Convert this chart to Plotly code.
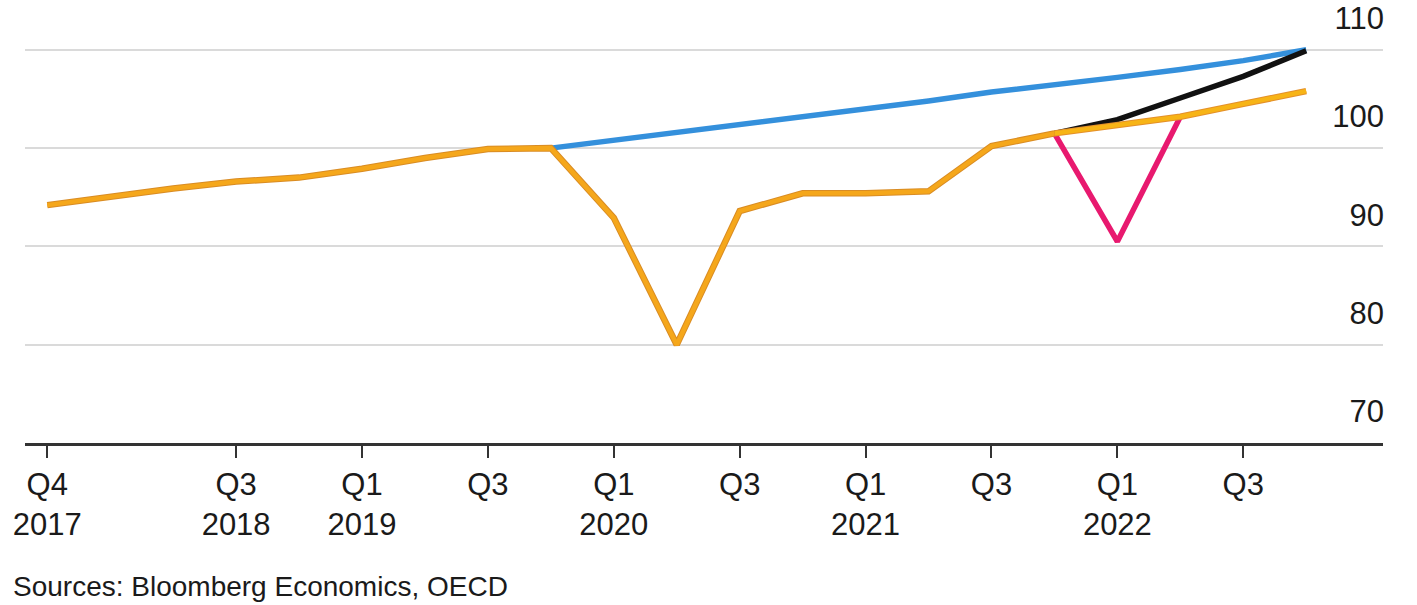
import plotly.graph_objects as go

quarters = ["Q4 2017", "Q1 2018", "Q2 2018", "Q3 2018", "Q4 2018", "Q1 2019", "Q2 2019",
            "Q3 2019", "Q4 2019", "Q1 2020", "Q2 2020", "Q3 2020", "Q4 2020", "Q1 2021",
            "Q2 2021", "Q3 2021", "Q4 2021", "Q1 2022", "Q2 2022", "Q3 2022", "Q4 2022"]

# actual GDP index (Q4 2017 .. Q4 2021)
actual = [94.2, 95.1, 95.9, 96.6, 97.0, 97.9, 99.0, 99.9, 100.0, 92.9, 80.0, 93.6,
          95.4, 95.4, 95.6, 100.2, 101.5]
# pre-pandemic trend (from Q4 2019)
trend = [100.0, 100.8, 101.6, 102.4, 103.2, 103.9, 104.8, 105.7, 106.4, 107.2, 108.0, 108.9, 110.0]
# pre-Omicron path (from Q4 2021)
pre_omicron = [101.5, 102.9, 105.1, 107.3, 109.9]
# forecast path (from Q4 2021)
forecast = [101.5, 102.4, 103.2, 104.5, 105.8]
# severe scenario (Q4 2021 .. Q2 2022)
severe = [101.5, 90.5, 103.2]

tick_vals = ["Q4 2017", "Q3 2018", "Q1 2019", "Q3 2019", "Q1 2020", "Q3 2020",
             "Q1 2021", "Q3 2021", "Q1 2022", "Q3 2022"]
tick_text = ["Q4<br>2017", "Q3<br>2018", "Q1<br>2019", "Q3", "Q1<br>2020", "Q3",
             "Q1<br>2021", "Q3", "Q1<br>2022", "Q3"]
y_ticks = [70, 80, 90, 100, 110]

FONT = "Liberation Sans, Arial, Helvetica, sans-serif"
n_act = len(actual)
i_trend = quarters.index("Q4 2019")
i_fc = quarters.index("Q4 2021")

fig = go.Figure()

fig.add_trace(go.Scatter(x=quarters[i_trend:], y=trend, mode="lines",
                         line=dict(color="#3490DC", width=5.5), hoverinfo="skip"))
fig.add_trace(go.Scatter(x=quarters[i_fc:], y=pre_omicron, mode="lines",
                         line=dict(color="#111111", width=5.5), hoverinfo="skip"))
fig.add_trace(go.Scatter(x=quarters[i_fc:i_fc + len(severe)], y=severe, mode="lines",
                         line=dict(color="#E8196F", width=5.5), hoverinfo="skip"))
# forecast: thin orange edge + yellow core
fig.add_trace(go.Scatter(x=quarters[i_fc:], y=forecast, mode="lines",
                         line=dict(color="#E4902A", width=6.5), hoverinfo="skip"))
fig.add_trace(go.Scatter(x=quarters[i_fc:], y=forecast, mode="lines",
                         line=dict(color="#F7B416", width=4.5), hoverinfo="skip"))
# actual: darker edge + orange core
fig.add_trace(go.Scatter(x=quarters[:n_act], y=actual, mode="lines",
                         line=dict(color="#D98C24", width=6.5), hoverinfo="skip"))
fig.add_trace(go.Scatter(x=quarters[:n_act], y=actual, mode="lines",
                         line=dict(color="#F5A71B", width=4.5), hoverinfo="skip"))

fig.add_annotation(text="Sources: Bloomberg Economics, OECD", xref="paper", yref="paper",
                   x=0, xshift=-14, y=-0.323, xanchor="left", yanchor="middle",
                   showarrow=False, font=dict(family=FONT, size=28, color="#1a1a1a"))

fig.update_layout(
    width=1417, height=605,
    margin=dict(l=25, r=34, t=0, b=162),
    paper_bgcolor="white", plot_bgcolor="white",
    showlegend=False,
    font=dict(family=FONT, size=31, color="#1a1a1a"),
    xaxis=dict(type="category", categoryorder="array", categoryarray=quarters,
               range=[-0.354, 21.22], tickmode="array", tickvals=tick_vals, ticktext=tick_text,
               ticks="outside", ticklen=12, tickwidth=2, tickcolor="#333333",
               showline=True, linecolor="#333333", linewidth=2.5, showgrid=False,
               zeroline=False, tickfont=dict(family=FONT, size=31, color="#1a1a1a")),
    yaxis=dict(range=[70, 115.07], side="right", tickmode="array", tickvals=y_ticks,
               ticklabelposition="inside top", ticklabelshift=-10, ticklabelstandoff=-4,
               showgrid=True, gridcolor="#DADADA",
               gridwidth=2, zeroline=False, showline=False, ticks="",
               tickfont=dict(family=FONT, size=31, color="#1a1a1a")),
)

fig.write_html("out.html")
